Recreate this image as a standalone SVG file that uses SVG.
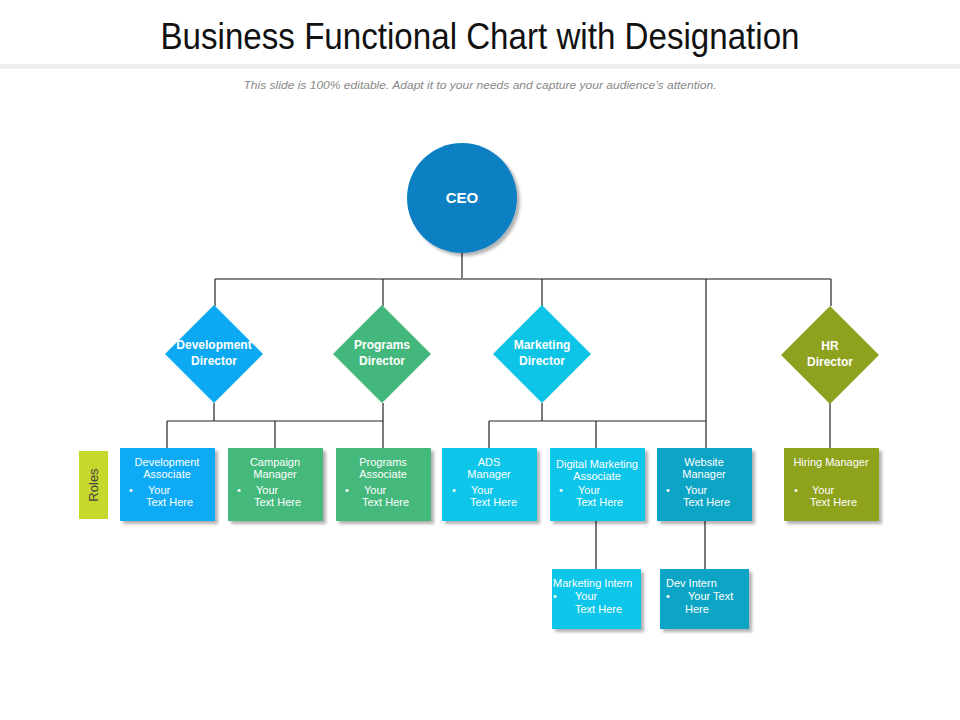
<svg xmlns="http://www.w3.org/2000/svg" width="960" height="720" viewBox="0 0 960 720">
<defs>
<filter id="sh" x="-20%" y="-20%" width="150%" height="150%">
<feDropShadow dx="3" dy="3" stdDeviation="1.5" flood-color="#000" flood-opacity="0.3"/>
</filter>
<style>
.t{font-family:"Liberation Sans",Arial,sans-serif;fill:#fff;font-size:11px}
.c{text-anchor:middle}
.b{font-weight:bold;font-size:12px;text-anchor:middle}
.ln{stroke:#222;stroke-width:1.2;fill:none}
.hl{stroke:#888;stroke-width:2.2;fill:none}
</style>
</defs>
<rect width="960" height="720" fill="#fff"/>
<text x="480" y="49" font-family="Liberation Sans,Arial,sans-serif" font-size="36" fill="#111" text-anchor="middle" textLength="639" lengthAdjust="spacingAndGlyphs">Business Functional Chart with Designation</text>
<rect x="0" y="64" width="960" height="5" fill="#eeeeee"/>
<text x="480" y="89" font-family="Liberation Sans,Arial,sans-serif" font-size="11" font-style="italic" fill="#888" text-anchor="middle" textLength="473" lengthAdjust="spacingAndGlyphs">This slide is 100% editable. Adapt it to your needs and capture your audience’s attention.</text>

<g id="connectors">
<path class="ln" d="M462 253V279"/>
<path class="hl" d="M215 279H831"/>
<path class="ln" d="M215 279V306M383 279V306M542 279V306M706 279V448M831 279V306"/>
<path class="ln" d="M214 403V421M167 421H383M167 421V448M275 421V448M383 403V448"/>
<path class="ln" d="M542 403V421M489 421H706M489 421V448M596 421V448"/>
<path class="ln" d="M830 403V448"/>
<path class="ln" d="M596 521V569M705 521V569"/>
</g>

<g id="ceo">
<circle cx="462" cy="198" r="55" fill="#0b7fc3" filter="url(#sh)"/>
<text class="t b" x="462" y="203" style="font-size:15px">CEO</text>
</g>

<g id="dev-director">
<polygon points="214,305 263,354 214,403 165,354" fill="#0ba9f1"/>
<text class="t b" x="214" y="349">Development</text>
<text class="t b" x="214" y="365">Director</text>
</g>
<g id="programs-director">
<polygon points="382,305 431,354 382,403 333,354" fill="#44b87c"/>
<text class="t b" x="382" y="349">Programs</text>
<text class="t b" x="382" y="365">Director</text>
</g>
<g id="marketing-director">
<polygon points="542,305 591,354 542,403 493,354" fill="#0cc4e5"/>
<text class="t b" x="542" y="349">Marketing</text>
<text class="t b" x="542" y="365">Director</text>
</g>
<g id="hr-director">
<polygon points="830,306 879,355 830,404 781,355" fill="#8fa21f"/>
<text class="t b" x="830" y="350">HR</text>
<text class="t b" x="830" y="366">Director</text>
</g>

<g id="roles">
<rect x="79" y="451" width="29" height="68" fill="#c6d82b"/>
<text x="98" y="485" font-family="Liberation Sans,Arial,sans-serif" font-size="13" fill="#444" text-anchor="middle" transform="rotate(-90 98 485)">Roles</text>
</g>

<g id="development-associate">
<rect x="120" y="448" width="95" height="73" fill="#0aaaf5" filter="url(#sh)"/>
<text class="t c" x="167" y="466">Development</text>
<text class="t c" x="167" y="478">Associate</text>
<text class="t" x="129" y="494">•</text>
<text class="t" x="148" y="494">Your</text>
<text class="t" x="146" y="506">Text Here</text>
</g>
<g id="campaign-manager">
<rect x="228" y="448" width="95" height="73" fill="#45b97c" filter="url(#sh)"/>
<text class="t c" x="275" y="466">Campaign</text>
<text class="t c" x="275" y="478">Manager</text>
<text class="t" x="237" y="494">•</text>
<text class="t" x="256" y="494">Your</text>
<text class="t" x="254" y="506">Text Here</text>
</g>
<g id="programs-associate">
<rect x="336" y="448" width="95" height="73" fill="#45b97c" filter="url(#sh)"/>
<text class="t c" x="383" y="466">Programs</text>
<text class="t c" x="383" y="478">Associate</text>
<text class="t" x="345" y="494">•</text>
<text class="t" x="364" y="494">Your</text>
<text class="t" x="362" y="506">Text Here</text>
</g>
<g id="ads-manager">
<rect x="442" y="448" width="95" height="73" fill="#0cc6ea" filter="url(#sh)"/>
<text class="t c" x="489" y="466">ADS</text>
<text class="t c" x="489" y="478">Manager</text>
<text class="t" x="452" y="494">•</text>
<text class="t" x="471" y="494">Your</text>
<text class="t" x="470" y="506">Text Here</text>
</g>
<g id="digital-marketing-associate">
<rect x="550" y="448" width="95" height="73" fill="#0cc6ea" filter="url(#sh)"/>
<text class="t c" x="597" y="468">Digital  Marketing</text>
<text class="t c" x="597" y="480">Associate</text>
<text class="t" x="559" y="494">•</text>
<text class="t" x="578" y="494">Your</text>
<text class="t" x="576" y="506">Text Here</text>
</g>
<g id="website-manager">
<rect x="657" y="448" width="95" height="73" fill="#0aa5c5" filter="url(#sh)"/>
<text class="t c" x="704" y="466">Website</text>
<text class="t c" x="704" y="478">Manager</text>
<text class="t" x="666" y="494">•</text>
<text class="t" x="685" y="494">Your</text>
<text class="t" x="683" y="506">Text Here</text>
</g>
<g id="hiring-manager">
<rect x="784" y="448" width="95" height="73" fill="#8fa21f" filter="url(#sh)"/>
<text class="t c" x="831" y="466">Hiring  Manager</text>
<text class="t" x="794" y="494">•</text>
<text class="t" x="812" y="494">Your</text>
<text class="t" x="810" y="506">Text Here</text>
</g>
<g id="marketing-intern">
<rect x="552" y="569" width="89" height="60" fill="#0cc6ea" filter="url(#sh)"/>
<text class="t" x="553" y="587">Marketing  Intern</text>
<text class="t" x="553" y="600">•</text>
<text class="t" x="575" y="600">Your</text>
<text class="t" x="575" y="613">Text Here</text>
</g>
<g id="dev-intern">
<rect x="660" y="569" width="89" height="60" fill="#0aa5c5" filter="url(#sh)"/>
<text class="t" x="666" y="587">Dev Intern</text>
<text class="t" x="666" y="600">•</text>
<text class="t" x="688" y="600">Your Text</text>
<text class="t" x="685" y="613">Here</text>
</g>
</svg>
